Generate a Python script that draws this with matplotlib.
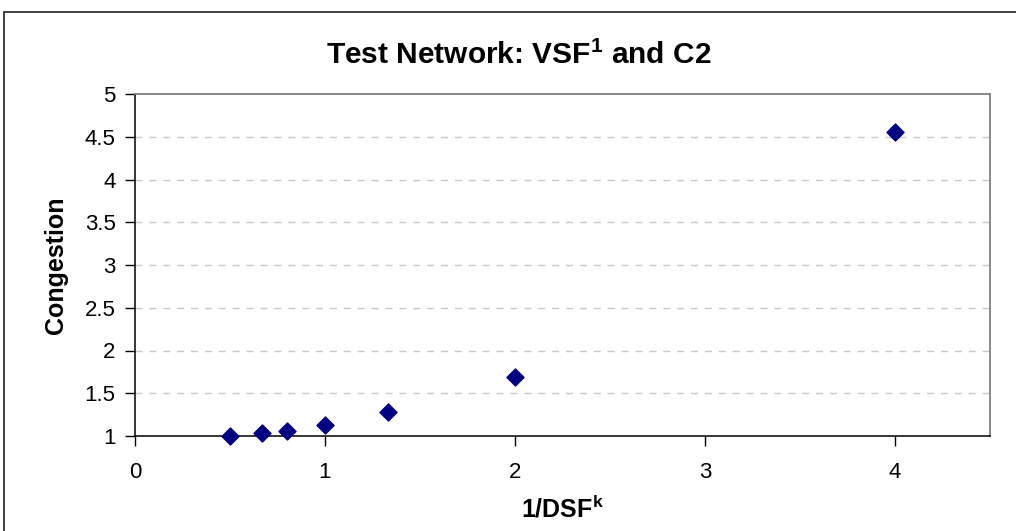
import matplotlib.pyplot as plt
from matplotlib.patches import Rectangle

# data
inv_dsf = [0.5, 0.667, 0.8, 1.0, 1.333, 2.0, 4.0]
congestion = [1.0, 1.03, 1.06, 1.125, 1.285, 1.69, 4.56]
x_ticks = [0, 1, 2, 3, 4]
y_ticks = [1, 1.5, 2, 2.5, 3, 3.5, 4, 4.5, 5]

plt.rcParams['font.family'] = ['Liberation Sans', 'DejaVu Sans']
plt.rcParams['mathtext.fontset'] = 'custom'
plt.rcParams['mathtext.rm'] = 'Liberation Sans:bold'
plt.rcParams['mathtext.bf'] = 'Liberation Sans:bold'

W, H = 1016, 531
fig = plt.figure(figsize=(W / 100, H / 100), dpi=100)
ax = fig.add_axes([135 / W, 1 - 436 / H, (990 - 135) / W, (436 - 94) / H])

# outer chart border (cut off at the right and bottom)
fig.patches.append(Rectangle((4 / W, -0.1), 1.2, 1 - 12 / H + 0.1,
                             transform=fig.transFigure, fill=False,
                             edgecolor='#333333', linewidth=1.3))

ax.scatter(inv_dsf, congestion, marker='D', s=75, color='#000080', zorder=3,
           clip_on=False)

ax.set_xlim(0, 4.5)
ax.set_ylim(1, 5)
ax.set_xticks(x_ticks)
ax.set_yticks(y_ticks)
ax.set_yticklabels([f'{v:g}' for v in y_ticks])

for y in y_ticks[1:-1]:
    ax.axhline(y, color='#c8c8c8', linestyle=(0, (5, 5)), linewidth=1, zorder=1)

ax.spines['top'].set_color('#808080')
ax.spines['right'].set_color('#808080')
ax.spines['top'].set_linewidth(1.3)
ax.spines['right'].set_linewidth(1.3)
ax.spines['left'].set_linewidth(1.1)
ax.spines['bottom'].set_linewidth(1.1)

ax.tick_params(axis='both', direction='out', length=7, width=1, labelsize=16)
ax.tick_params(axis='x', pad=12)
ax.tick_params(axis='y', pad=7)

# title is centred on the whole chart box, not on the plot area
fig.text(519 / W, 1 - 64 / H, r'Test Network: VSF$^{\mathbf{1}}$ and C2',
         fontsize=21.5, fontweight='bold', ha='center', va='baseline')
ax.set_xlabel(r'1/DSF$^{\mathbf{k}}$', fontsize=18, fontweight='bold', labelpad=9)
ax.set_ylabel('Congestion', fontsize=18, fontweight='bold', labelpad=12)

fig.savefig('out.png', dpi=100)
